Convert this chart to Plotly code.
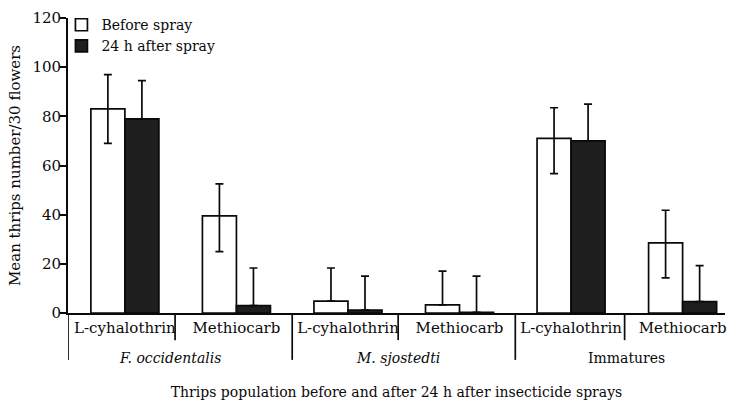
import plotly.graph_objects as go

groups = ["F. occidentalis", "M. sjostedti", "Immatures"]
treatments = ["L-cyhalothrin", "Methiocarb"]
categories = [f"{g} | {t}" for g in groups for t in treatments]
tick_labels = [t for g in groups for t in treatments]

before_spray = [83, 39.5, 4.8, 3.3, 71, 28.5]
before_err_plus = [14, 13, 13.5, 13.7, 12.5, 13.3]
before_err_minus = [14, 14.5, 0, 0, 14.3, 14.2]

after_spray = [79, 3, 1.2, 0.3, 70, 4.6]
after_err_plus = [15.5, 15.3, 13.8, 14.7, 15, 14.7]
after_err_minus = [0, 0, 0, 0, 0, 0]

FONT = "DejaVu Serif"
INK = "#0a0a0a"

fig = go.Figure()
fig.add_trace(go.Bar(
    name="Before spray", x=categories, y=before_spray,
    marker=dict(color="white", line=dict(color=INK, width=1.7)),
    error_y=dict(type="data", symmetric=False, array=before_err_plus,
                 arrayminus=before_err_minus, color=INK, thickness=1.7, width=4),
))
fig.add_trace(go.Bar(
    name="24 h after spray", x=categories, y=after_spray,
    marker=dict(color="#1e1e1e", line=dict(color=INK, width=1.7)),
    error_y=dict(type="data", symmetric=False, array=after_err_plus,
                 arrayminus=after_err_minus, color=INK, thickness=1.7, width=4),
))

# dividers below the x axis
short_div = [0.45, 2.45, 4.48]
long_div = [-0.51, 1.5, 3.5]
for xv in short_div:
    fig.add_shape(type="line", xref="x", yref="paper", x0=xv, x1=xv, y0=0, y1=-0.092,
                  line=dict(color=INK, width=1.7))
for xv in long_div:
    fig.add_shape(type="line", xref="x", yref="paper", x0=xv, x1=xv, y0=0, y1=-0.159,
                  line=dict(color=INK, width=1.7))

group_pos = [0.4, 2.45, 4.5]
for g, xp in zip(groups, group_pos):
    txt = g if g == "Immatures" else f"<i>{g}</i>"
    fig.add_annotation(text=txt, xref="x", yref="paper", x=xp, y=-0.153,
                       showarrow=False, yanchor="middle",
                       font=dict(family=FONT, size=14, color=INK))

fig.update_layout(
    width=732, height=400,
    margin=dict(l=68, r=7, t=18, b=87),
    paper_bgcolor="white", plot_bgcolor="white",
    barmode="group", bargap=0.39, bargroupgap=0,
    font=dict(family=FONT, size=14, color=INK),
    showlegend=True,
    legend=dict(x=-0.01, y=1.03, xanchor="left", yanchor="top",
                bgcolor="rgba(0,0,0,0)", font=dict(family=FONT, size=14, color=INK),
                itemwidth=30, tracegroupgap=0),
    xaxis=dict(
        type="category", categoryorder="array", categoryarray=categories,
        tickvals=categories, ticktext=tick_labels,
        range=[-0.51, 5.38], showline=True, linecolor=INK, linewidth=1.7,
        ticks="", showgrid=False, zeroline=False, automargin=False,
        tickfont=dict(family=FONT, size=15, color=INK),
        title=dict(text="Thrips population before and after 24 h after insecticide sprays",
                   font=dict(family=FONT, size=14, color=INK), standoff=51),
    ),
    yaxis=dict(
        range=[0, 120], tickvals=[0, 20, 40, 60, 80, 100, 120],
        showline=True, linecolor=INK, linewidth=1.7,
        ticks="outside", ticklen=6, tickwidth=1.7, tickcolor=INK,
        ticklabelstandoff=-4,
        showgrid=False, zeroline=False, automargin=False,
        tickfont=dict(family=FONT, size=15, color=INK),
        title=dict(text="Mean thrips number/30 flowers",
                   font=dict(family=FONT, size=15, color=INK), standoff=8),
    ),
)

fig.write_html("out.html")
